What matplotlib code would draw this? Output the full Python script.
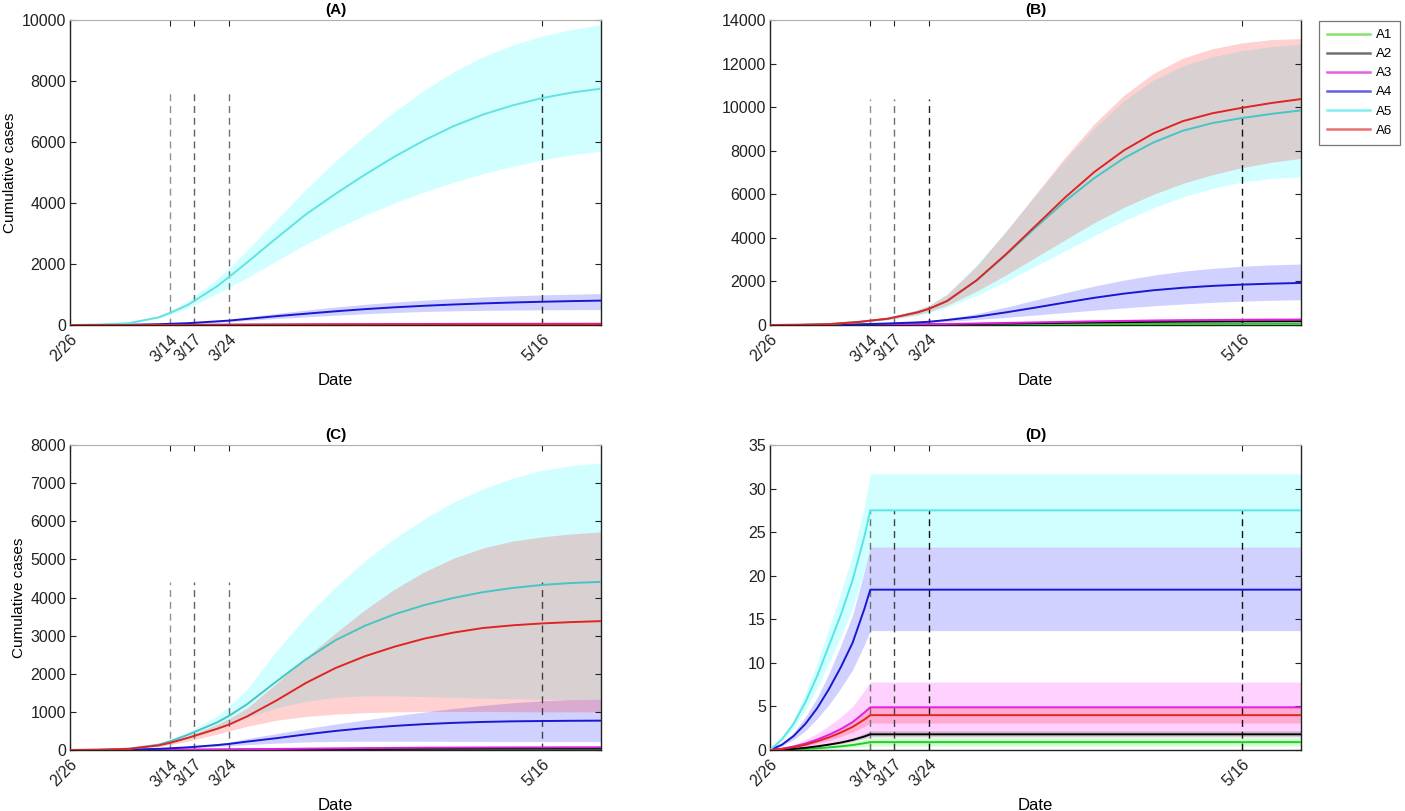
import matplotlib
matplotlib.use("Agg")
import matplotlib.pyplot as plt
from matplotlib.lines import Line2D

plt.rcParams['font.family'] = ['Liberation Sans', 'DejaVu Sans']

# ---------------- data ----------------
tick_days = [0, 17, 21, 27, 80]
tick_labels = ['2/26', '3/14', '3/17', '3/24', '5/16']
x_end = 90
series_names = ['A1', 'A2', 'A3', 'A4', 'A5', 'A6']

days = [0, 5, 10, 15, 17, 20, 25, 27, 30, 35, 40, 45, 50, 55, 60, 65, 70, 75, 80, 85, 90]

# Panel A
A_A1_mean = [0, 0, 0, 0, 1, 1, 1, 1, 2, 2, 2, 3, 3, 3, 3, 4, 4, 4, 4, 4, 4]
A_A1_lo = [0, 0, 0, 0, 0, 0, 1, 1, 1, 1, 1, 2, 2, 2, 2, 2, 2, 2, 2, 2, 2]
A_A1_hi = [0, 0, 0, 1, 1, 1, 2, 2, 3, 3, 4, 4, 5, 5, 5, 6, 6, 6, 6, 6, 6]
A_A2_mean = [0, 0, 0, 1, 1, 2, 3, 3, 4, 5, 6, 7, 8, 8, 9, 9, 10, 10, 10, 10, 10]
A_A2_lo = [0, 0, 0, 0, 1, 1, 2, 2, 3, 3, 4, 5, 5, 5, 6, 6, 6, 6, 7, 7, 7]
A_A2_hi = [0, 0, 0, 1, 2, 3, 4, 5, 6, 7, 8, 10, 11, 12, 13, 13, 14, 14, 14, 14, 15]
A_A3_mean = [0, 0, 1, 3, 4, 6, 9, 10, 13, 17, 21, 25, 28, 31, 34, 36, 38, 39, 40, 41, 42]
A_A3_lo = [0, 0, 0, 2, 2, 4, 5, 6, 8, 10, 13, 15, 17, 19, 20, 22, 23, 23, 24, 25, 25]
A_A3_hi = [0, 0, 2, 5, 6, 9, 14, 15, 20, 26, 32, 38, 42, 47, 51, 54, 57, 59, 60, 62, 63]
A_A4_mean = [0, 2, 8, 25, 40, 60, 120, 145, 200, 290, 370, 450, 520, 580, 630, 672, 708, 738, 762, 783, 800]
A_A4_lo = [0, 1, 6, 20, 32, 48, 95, 110, 150, 210, 265, 320, 368, 410, 443, 465, 480, 490, 498, 503, 505]
A_A4_hi = [0, 3, 10, 30, 48, 75, 150, 185, 260, 380, 490, 590, 678, 752, 815, 868, 916, 956, 988, 1010, 1030]
A_A5_mean = [0, 15, 60, 250, 400, 660, 1280, 1580, 2050, 2850, 3630, 4300, 4930, 5520, 6050, 6520, 6900, 7200, 7440, 7620, 7750]
A_A5_lo = [0, 12, 50, 220, 345, 560, 1040, 1240, 1550, 2100, 2650, 3150, 3600, 4000, 4360, 4680, 4960, 5200, 5410, 5580, 5700]
A_A5_hi = [0, 18, 70, 290, 460, 780, 1530, 1880, 2450, 3450, 4450, 5380, 6220, 7000, 7700, 8300, 8800, 9180, 9470, 9690, 9850]
A_A6_mean = [0, 0, 0, 1, 2, 3, 4, 5, 6, 8, 10, 12, 13, 14, 15, 16, 17, 18, 18, 19, 19]
A_A6_lo = [0, 0, 0, 1, 1, 2, 3, 3, 4, 5, 6, 7, 8, 9, 9, 10, 10, 11, 11, 11, 11]
A_A6_hi = [0, 0, 1, 2, 3, 4, 6, 7, 9, 12, 15, 18, 20, 21, 23, 24, 25, 26, 27, 28, 28]

# Panel B
B_A1_mean = [0, 0, 1, 2, 3, 4, 7, 8, 11, 16, 22, 28, 34, 39, 44, 48, 51, 53, 55, 57, 58]
B_A1_lo = [0, 0, 0, 1, 2, 3, 5, 6, 8, 11, 15, 19, 23, 27, 30, 33, 35, 37, 38, 39, 40]
B_A1_hi = [0, 0, 1, 3, 4, 6, 10, 12, 16, 23, 31, 40, 48, 55, 62, 67, 71, 74, 77, 79, 80]
B_A2_mean = [0, 0, 2, 5, 8, 12, 20, 24, 32, 48, 66, 85, 102, 118, 132, 145, 155, 163, 169, 173, 176]
B_A2_lo = [0, 0, 1, 4, 6, 9, 15, 18, 24, 35, 48, 62, 75, 86, 96, 105, 112, 118, 122, 125, 127]
B_A2_hi = [0, 0, 3, 7, 10, 16, 26, 31, 42, 63, 86, 110, 133, 153, 172, 189, 202, 212, 220, 225, 229]
B_A3_mean = [0, 1, 3, 8, 12, 18, 30, 36, 48, 70, 95, 120, 145, 168, 188, 205, 218, 228, 236, 243, 248]
B_A3_lo = [0, 1, 2, 6, 8, 13, 21, 25, 34, 49, 67, 84, 102, 118, 132, 144, 153, 160, 165, 170, 174]
B_A3_hi = [0, 1, 4, 11, 16, 24, 41, 49, 65, 95, 128, 162, 196, 227, 254, 277, 294, 308, 319, 328, 335]
B_A4_mean = [0, 3, 10, 30, 45, 70, 120, 150, 230, 380, 580, 800, 1030, 1250, 1440, 1595, 1710, 1795, 1855, 1898, 1930]
B_A4_lo = [0, 2, 8, 22, 35, 55, 90, 110, 160, 250, 350, 460, 570, 680, 785, 880, 965, 1040, 1095, 1135, 1160]
B_A4_hi = [0, 4, 12, 38, 55, 85, 150, 190, 300, 520, 820, 1150, 1480, 1790, 2060, 2290, 2470, 2600, 2700, 2760, 2800]
B_A5_mean = [0, 10, 40, 140, 200, 290, 580, 750, 1100, 2040, 3220, 4470, 5680, 6750, 7660, 8380, 8920, 9270, 9500, 9690, 9850]
B_A5_lo = [0, 8, 33, 110, 160, 230, 440, 560, 800, 1350, 2000, 2700, 3400, 4100, 4780, 5380, 5880, 6270, 6560, 6720, 6800]
B_A5_hi = [0, 12, 45, 160, 230, 340, 710, 920, 1430, 2750, 4300, 5950, 7580, 9050, 10300, 11250, 11900, 12320, 12600, 12780, 12900]
B_A6_mean = [0, 10, 40, 140, 200, 290, 580, 750, 1100, 2050, 3250, 4550, 5850, 7030, 8020, 8800, 9360, 9720, 9970, 10190, 10370]
B_A6_lo = [0, 8, 35, 120, 170, 245, 480, 620, 900, 1550, 2300, 3100, 3900, 4700, 5400, 6000, 6500, 6900, 7220, 7470, 7650]
B_A6_hi = [0, 12, 45, 160, 230, 340, 700, 900, 1400, 2700, 4300, 6000, 7700, 9250, 10550, 11550, 12250, 12680, 12950, 13100, 13150]

# Panel C
C_A1_mean = [0, 0, 0, 1, 1, 2, 3, 3, 4, 6, 8, 9, 11, 12, 13, 14, 14, 15, 15, 15, 15]
C_A1_lo = [0, 0, 0, 0, 1, 1, 2, 2, 3, 4, 5, 6, 7, 8, 8, 9, 9, 9, 10, 10, 10]
C_A1_hi = [0, 0, 1, 1, 2, 3, 4, 5, 6, 9, 11, 13, 15, 17, 18, 19, 20, 21, 21, 21, 22]
C_A2_mean = [0, 0, 1, 2, 3, 4, 7, 8, 10, 15, 20, 24, 28, 31, 34, 36, 38, 39, 40, 40, 41]
C_A2_lo = [0, 0, 0, 1, 2, 3, 5, 6, 7, 11, 14, 17, 20, 22, 24, 26, 27, 28, 28, 29, 29]
C_A2_hi = [0, 0, 1, 3, 4, 6, 9, 11, 14, 20, 27, 33, 38, 42, 46, 49, 51, 53, 54, 55, 56]
C_A3_mean = [0, 0, 1, 4, 6, 9, 14, 16, 20, 28, 36, 43, 50, 55, 60, 64, 66, 68, 69, 70, 71]
C_A3_lo = [0, 0, 1, 3, 4, 6, 10, 11, 14, 19, 25, 30, 35, 38, 42, 44, 46, 47, 48, 49, 50]
C_A3_hi = [0, 1, 2, 6, 8, 12, 19, 22, 27, 38, 49, 58, 68, 75, 81, 86, 89, 92, 93, 95, 96]
C_A4_mean = [0, 2, 8, 30, 45, 70, 130, 160, 220, 310, 410, 500, 575, 632, 678, 712, 736, 752, 760, 766, 770]
C_A4_lo = [0, 1, 6, 22, 35, 55, 95, 110, 140, 180, 210, 225, 230, 230, 228, 225, 222, 220, 220, 220, 220]
C_A4_hi = [0, 3, 10, 38, 55, 90, 170, 210, 300, 430, 560, 680, 790, 895, 995, 1090, 1170, 1240, 1290, 1320, 1330]
C_A5_mean = [0, 8, 35, 140, 230, 400, 730, 900, 1200, 1800, 2380, 2880, 3260, 3560, 3800, 3990, 4140, 4250, 4330, 4380, 4410]
C_A5_lo = [0, 7, 30, 110, 170, 290, 540, 660, 850, 1100, 1280, 1380, 1420, 1420, 1400, 1380, 1360, 1340, 1330, 1320, 1320]
C_A5_hi = [0, 10, 40, 170, 280, 480, 900, 1150, 1600, 2600, 3500, 4280, 4960, 5550, 6060, 6500, 6850, 7130, 7340, 7460, 7530]
C_A6_mean = [0, 8, 30, 120, 190, 320, 560, 670, 880, 1300, 1760, 2150, 2460, 2710, 2920, 3080, 3200, 3270, 3320, 3355, 3380]
C_A6_lo = [0, 6, 25, 90, 140, 230, 420, 500, 620, 780, 880, 940, 980, 1000, 1010, 1010, 1010, 1005, 1000, 1000, 1000]
C_A6_hi = [0, 9, 35, 140, 220, 370, 680, 830, 1100, 1750, 2420, 3070, 3680, 4220, 4670, 5030, 5300, 5480, 5590, 5670, 5720]

# Panel D
days_D = [0, 2, 4, 6, 8, 10, 12, 14, 16, 17, 90]
D_A1_mean = [0, 0.02, 0.06, 0.12, 0.2, 0.3, 0.42, 0.57, 0.78, 0.9, 0.9]
D_A1_lo = [0, 0.01, 0.03, 0.06, 0.1, 0.15, 0.21, 0.29, 0.39, 0.45, 0.45]
D_A1_hi = [0, 0.03, 0.1, 0.19, 0.31, 0.46, 0.65, 0.88, 1.2, 1.4, 1.4]
D_A2_mean = [0, 0.05, 0.13, 0.25, 0.42, 0.62, 0.85, 1.15, 1.55, 1.8, 1.8]
D_A2_lo = [0, 0.04, 0.11, 0.21, 0.35, 0.52, 0.7, 0.95, 1.3, 1.5, 1.5]
D_A2_hi = [0, 0.06, 0.16, 0.3, 0.5, 0.75, 1.03, 1.38, 1.88, 2.2, 2.2]
D_A3_mean = [0, 0.15, 0.4, 0.75, 1.2, 1.75, 2.4, 3.2, 4.3, 4.9, 4.9]
D_A3_lo = [0, 0.06, 0.16, 0.3, 0.5, 0.7, 1.0, 1.3, 1.75, 2.0, 2.0]
D_A3_hi = [0, 0.25, 0.6, 1.2, 1.9, 2.8, 3.8, 5.0, 6.8, 7.8, 7.8]
D_A4_mean = [0, 0.6, 1.6, 3.0, 4.8, 7.0, 9.5, 12.3, 16.2, 18.4, 18.4]
D_A4_lo = [0, 0.45, 1.2, 2.2, 3.6, 5.2, 7.1, 9.2, 12.1, 13.7, 13.7]
D_A4_hi = [0, 0.75, 2.0, 3.8, 6.0, 8.8, 12.0, 15.5, 20.5, 23.3, 23.3]
D_A5_mean = [0, 1.2, 3.0, 5.5, 8.5, 12.0, 15.5, 19.5, 24.5, 27.5, 27.5]
D_A5_lo = [0, 1.0, 2.5, 4.6, 7.1, 10.0, 13.0, 16.3, 20.5, 23.3, 23.3]
D_A5_hi = [0, 1.4, 3.5, 6.5, 10.0, 14.0, 18.0, 22.5, 28.0, 31.7, 31.7]
D_A6_mean = [0, 0.12, 0.32, 0.6, 1.0, 1.45, 2.0, 2.65, 3.5, 4.0, 4.0]
D_A6_lo = [0, 0.09, 0.25, 0.47, 0.78, 1.1, 1.55, 2.05, 2.7, 3.1, 3.1]
D_A6_hi = [0, 0.15, 0.4, 0.75, 1.2, 1.8, 2.5, 3.3, 4.4, 5.0, 5.0]

# ---------------- style ----------------
fill_rgb = ['#00ff00', '#000000', '#ff00ff', '#0000ff', '#00ffff', '#ff0000']
line_col = ['#22cc22', '#000000', '#e020e0', '#1818d0', '#55dede', '#e02424']
legend_col = ['#88e070', '#707070', '#e060e0', '#6060e0', '#80f0f0', '#e87070']

W, H = 1405, 811
fig = plt.figure(figsize=(W / 100, H / 100), dpi=100)


def ax_rect(l, r, t, b):
    return [l / W, 1 - b / H, (r - l) / W, (b - t) / H]


panels = [
    dict(title='(A)', rect=ax_rect(70, 601, 20, 325), ylim=(0, 10000), yticks=range(0, 10001, 2000),
         x=days, data=[(A_A1_mean, A_A1_lo, A_A1_hi), (A_A2_mean, A_A2_lo, A_A2_hi),
                       (A_A3_mean, A_A3_lo, A_A3_hi), (A_A4_mean, A_A4_lo, A_A4_hi),
                       (A_A5_mean, A_A5_lo, A_A5_hi), (A_A6_mean, A_A6_lo, A_A6_hi)],
         vcol=['#909090', '#606060', '#707070', '#303030'], ylabel=True, c5='#62e2e2'),
    dict(title='(B)', rect=ax_rect(770, 1301, 20, 325), ylim=(0, 14000), yticks=range(0, 14001, 2000),
         x=days, data=[(B_A1_mean, B_A1_lo, B_A1_hi), (B_A2_mean, B_A2_lo, B_A2_hi),
                       (B_A3_mean, B_A3_lo, B_A3_hi), (B_A4_mean, B_A4_lo, B_A4_hi),
                       (B_A5_mean, B_A5_lo, B_A5_hi), (B_A6_mean, B_A6_lo, B_A6_hi)],
         vcol=['#909090', '#707070', '#202020', '#101010'], ylabel=False, c5='#48c4c4'),
    dict(title='(C)', rect=ax_rect(70, 601, 445, 750), ylim=(0, 8000), yticks=range(0, 8001, 1000),
         x=days, data=[(C_A1_mean, C_A1_lo, C_A1_hi), (C_A2_mean, C_A2_lo, C_A2_hi),
                       (C_A3_mean, C_A3_lo, C_A3_hi), (C_A4_mean, C_A4_lo, C_A4_hi),
                       (C_A5_mean, C_A5_lo, C_A5_hi), (C_A6_mean, C_A6_lo, C_A6_hi)],
         vcol=['#909090', '#606060', '#707070', '#404040'], ylabel=True, c5='#48c4c4'),
    dict(title='(D)', rect=ax_rect(770, 1301, 445, 750), ylim=(0, 35), yticks=range(0, 36, 5),
         x=days_D, data=[(D_A1_mean, D_A1_lo, D_A1_hi), (D_A2_mean, D_A2_lo, D_A2_hi),
                         (D_A3_mean, D_A3_lo, D_A3_hi), (D_A4_mean, D_A4_lo, D_A4_hi),
                         (D_A5_mean, D_A5_lo, D_A5_hi), (D_A6_mean, D_A6_lo, D_A6_hi)],
         vcol=['#707070', '#404040', '#101010', '#101010'], ylabel=False, c5='#55e6e6'),
]

for p in panels:
    ax = fig.add_axes(p['rect'])
    x = p['x']
    for i, (m, lo, hi) in enumerate(p['data']):
        ax.fill_between(x, lo, hi, color=fill_rgb[i], alpha=0.18, lw=0, zorder=1)
    vmax = max(max(m) for m, lo, hi in p['data'])
    for d, c in zip(tick_days[1:], p['vcol']):
        ax.plot([d, d], [0, vmax], ls=(0, (5, 3.5)), color=c, lw=1.0, zorder=2)
    for i, (m, lo, hi) in enumerate(p['data']):
        col = p['c5'] if i == 4 else line_col[i]
        ax.plot(x, m, color=col, lw=1.4, zorder=3 + i * 0.1)
    ax.set_xlim(0, x_end)
    ax.set_ylim(*p['ylim'])
    ax.set_yticks(list(p['yticks']))
    ax.set_xticks(tick_days)
    ax.set_xticklabels(tick_labels, rotation=45, ha='right', rotation_mode='anchor')
    ax.tick_params(direction='in', length=4, width=0.8, labelsize=11.5, colors='#222222',
                   top=True, right=True, pad=3)
    ax.tick_params(axis='x', pad=5)
    for s in ['left', 'right', 'bottom']:
        ax.spines[s].set_color('#222222')
        ax.spines[s].set_linewidth(1.0)
    ax.spines['top'].set_color('#b0b0b0')
    ax.spines['top'].set_linewidth(0.8)
    ax.set_title(p['title'], fontsize=11, fontweight='bold', pad=4)
    ax.set_xlabel('Date', fontsize=12, labelpad=6)
    if p['ylabel']:
        ax.set_ylabel('Cumulative cases', fontsize=11, labelpad=3)

handles = [Line2D([], [], color=c, lw=1.8) for c in legend_col]
leg = fig.legend(handles, series_names, loc='upper right', bbox_to_anchor=(1400 / W, 1 - 21 / H),
                 borderaxespad=0, fontsize=9.5, handlelength=3.3, handletextpad=0.4,
                 labelspacing=0.52, fancybox=False, frameon=True, borderpad=0.6)
leg.get_frame().set_edgecolor('#555555')
leg.get_frame().set_linewidth(0.9)

fig.savefig('out.png', dpi=100)
